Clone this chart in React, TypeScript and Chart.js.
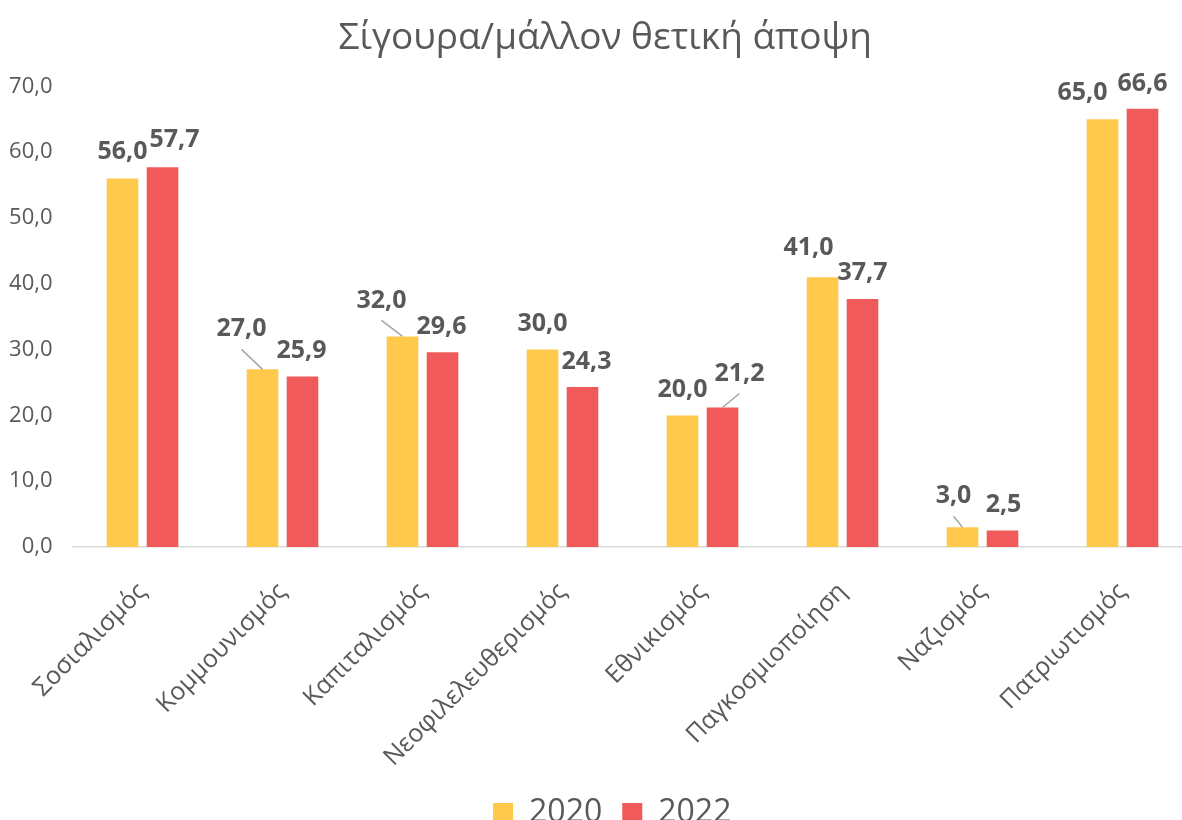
import React, { useEffect, useRef } from "react";
import { Chart, registerables } from "chart.js";

Chart.register(...registerables);

const titleText = "Σίγουρα/μάλλον θετική άποψη";
const categories = [
  "Σοσιαλισμός",
  "Κομμουνισμός",
  "Καπιταλισμός",
  "Νεοφιλελευθερισμός",
  "Εθνικισμός",
  "Παγκοσμιοποίηση",
  "Ναζισμός",
  "Πατριωτισμός",
];
const seriesNames = ["2020", "2022"];
const values2020 = [56.0, 27.0, 32.0, 30.0, 20.0, 41.0, 3.0, 65.0];
const values2022 = [57.7, 25.9, 29.6, 24.3, 21.2, 37.7, 2.5, 66.6];
const yMin = 0;
const yMax = 70;
const yStep = 10;

// label placement (relative to bar top) and leader lines
const labelDx = [
  [0, -21, -21, 0, 0, -14, -9, -20],
  [12, -1, -1, 4, 17, 0, 1, 0],
];
const labelDy = [
  [-27, -40, -36, -26, -26, -29, -31, -26],
  [-27, -26, -25, -25, -34, -26, -26, -25],
];
const leader = [
  [false, true, true, false, false, false, true, false],
  [false, false, false, false, true, false, false, false],
];

const FONT = "'Open Sans', 'Noto Sans', sans-serif";
const TEXT = "#595959";
const fmt = (v: number) => v.toFixed(1).replace(".", ",");

const labelPlugin = {
  id: "barLabels",
  afterDatasetsDraw(chart: any) {
    const ctx = chart.ctx;
    ctx.save();
    chart.data.datasets.forEach((ds: any, di: number) => {
      const meta = chart.getDatasetMeta(di);
      meta.data.forEach((bar: any, i: number) => {
        const lx = bar.x + labelDx[di][i];
        const ly = bar.y + labelDy[di][i];
        if (leader[di][i]) {
          ctx.strokeStyle = "#a6a6a6";
          ctx.lineWidth = 1.5;
          ctx.beginPath();
          ctx.moveTo(lx, ly + 20);
          ctx.lineTo(bar.x, bar.y);
          ctx.stroke();
        }
        ctx.fillStyle = TEXT;
        ctx.font = `bold 25px ${FONT}`;
        ctx.textAlign = "center";
        ctx.textBaseline = "middle";
        ctx.fillText(fmt(ds.data[i]), lx, ly);
      });
    });
    ctx.restore();
  },
};

// nudge title and legend horizontally to match the original centring
const shiftPlugin = {
  id: "shiftBoxes",
  afterLayout(chart: any) {
    if (chart.titleBlock) {
      chart.titleBlock.left += 9;
      chart.titleBlock.right += 9;
    }
    if (chart.legend) {
      chart.legend.left += 16;
      chart.legend.right += 16;
    }
  },
};

export default function App() {
  const ref = useRef<HTMLCanvasElement | null>(null);
  useEffect(() => {
    if (!ref.current) return;
    const chart = new Chart(ref.current, {
      type: "bar",
      data: {
        labels: categories,
        datasets: [
          {
            label: seriesNames[0],
            data: values2020,
            backgroundColor: "#FFC94B",
            categoryPercentage: 0.5714,
            barPercentage: 0.79,
          },
          {
            label: seriesNames[1],
            data: values2022,
            backgroundColor: "#F05A5A",
            categoryPercentage: 0.5714,
            barPercentage: 0.79,
          },
        ],
      },
      options: {
        responsive: false,
        animation: false,
        layout: { padding: { left: 0, right: 7.5, top: 0, bottom: 0 } },
        plugins: {
          title: {
            display: true,
            text: titleText,
            color: TEXT,
            font: { family: FONT, size: 37, weight: "normal" },
            padding: { top: 16, bottom: 26 },
          },
          legend: {
            position: "bottom",
            labels: {
              color: TEXT,
              font: { family: FONT, size: 32 },
              boxWidth: 20,
              boxHeight: 20,
              padding: 20,
            },
          },
          tooltip: { enabled: false },
        },
        scales: {
          x: {
            grid: { display: false, drawTicks: false },
            border: { display: true, color: "#d9d9d9", width: 1.5 },
            ticks: {
              color: TEXT,
              font: { family: FONT, size: 25 },
              minRotation: 45,
              maxRotation: 45,
              autoSkip: false,
              padding: 30,
            },
            afterFit(scale: any) {
              scale.height = 230;
            },
          },
          y: {
            min: yMin,
            max: yMax,
            grid: { display: false, drawTicks: false },
            border: { display: false },
            ticks: {
              stepSize: yStep,
              color: TEXT,
              font: { family: FONT, size: 22 },
              padding: 20,
              callback: (v: any) => fmt(Number(v)),
            },
            afterFit(scale: any) {
              scale.width = 72.5;
            },
          },
        },
      },
      plugins: [labelPlugin, shiftPlugin],
    });
    return () => chart.destroy();
  }, []);
  return (
    <div
      style={{
        position: "fixed",
        left: 0,
        top: 0,
        width: 1182,
        height: 820,
        overflow: "hidden",
        background: "#fff",
      }}
    >
      <canvas ref={ref} width={1200} height={839} style={{ display: "block" }} />
    </div>
  );
}
